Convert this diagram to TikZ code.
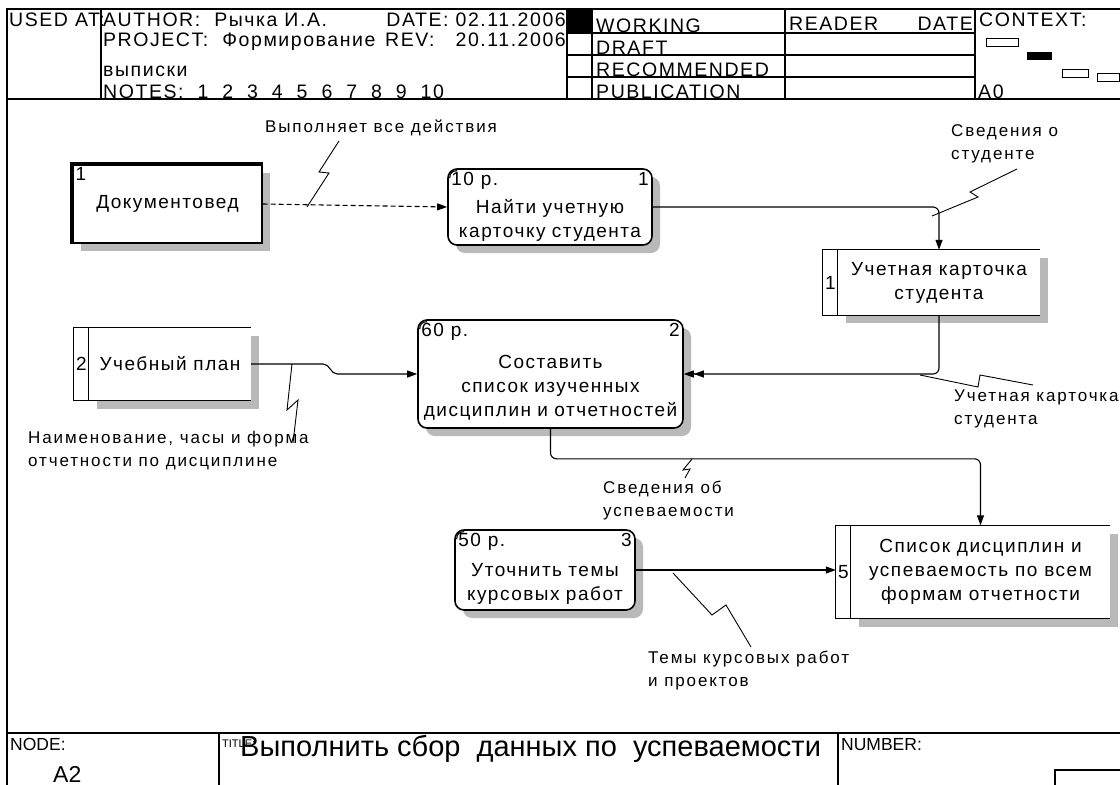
\documentclass[tikz,border=0pt]{standalone}
\usepackage{fontspec}
\setmainfont{Liberation Sans}
\newfontfamily\bpfont[LetterSpace=8]{Liberation Sans}
\newfontfamily\bpnote[LetterSpace=11]{Liberation Sans}
\usetikzlibrary{arrows.meta,calc,shadows}
\tikzset{
	shade box/.style={drop shadow={shadow xshift=8pt,shadow yshift=-8pt,fill=gray!55,opacity=1}},
	process/.style={draw, line width=1.6pt, fill=white, rounded corners=9pt, shade box, align=center, inner sep=0pt, font=\bpfont\fontsize{19}{24}\selectfont},
	store/.style={fill=white, shade box, align=center, inner sep=0pt, font=\bpfont\fontsize{19}{24}\selectfont},
	actor/.style={draw, line width=1.2pt, fill=white, shade box, align=center, inner sep=0pt, font=\bpfont\fontsize{19}{24}\selectfont},
	corner/.style={inner sep=4pt, font=\bpfont\fontsize{19}{20}\selectfont},
	flow/.style={line width=1.1pt, -{Triangle[length=10pt,width=7pt]}},
	note/.style={font=\bpnote\fontsize{17}{23}\selectfont, align=left, inner sep=0pt},
	zig/.style={line width=0.9pt},
	frame/.style={line width=1.2pt},
	head/.style={font=\bpfont\fontsize{19.5}{20}\selectfont, inner sep=0pt},
	foot/.style={font=\fontsize{17.5}{19}\selectfont, inner sep=0pt}
}
% open data store: top, bottom and number box, no right side
\newcommand\storeframe[1]{%
	\draw[line width=1.3pt] (#1.north east) -- ([xshift=-15pt]#1.north west) -- ([xshift=-15pt]#1.south west) -- (#1.south east);
	\draw[line width=1.3pt] (#1.north west) -- (#1.south west);
}
% little second stroke in the top left corner of an activity
\newcommand\cornermark[1]{%
	\draw[line width=1.1pt] ($(#1.north west)+(2.5,10)$) .. controls ($(#1.north west)+(2.5,5)$) and ($(#1.north west)+(5,2.5)$) .. ($(#1.north west)+(10,2.5)$);
}

\begin{document}
\begin{tikzpicture}[x=1pt,y=-1pt]
	\useasboundingbox (0,0) rectangle (1120,785);
	\fill[white] (0,0) rectangle (1120,785);

	% frame
	\draw[frame] (7,785) -- (7,9) -- (1120,9);
	\draw[frame] (7,99) -- (1120,99);
	\foreach \x in {101,567,592,785,975}
		\draw[frame] (\x,9) -- (\x,99);
	\foreach \y in {33,55,77}
		\draw[frame] (567,\y) -- (975,\y);
	\fill (567,9) rectangle (592,33);
	\draw (986,38) rectangle (1018,46);
	\fill (1027,52) rectangle (1052,60);
	\draw (1062,69) rectangle (1088,77);
	\draw (1097,73) rectangle (1119,81);
	\draw[frame] (7,733) -- (1120,733);
	\draw[frame] (219,733) -- (219,785);
	\draw[frame] (838,733) -- (838,785);
	\draw[frame] (1055,785) |- (1120,770);

	% header
	\node[head, anchor=base west] (usedat) at (9,26) {USED AT:};
	\node[head, anchor=base west] (author) at (103,26) {AUTHOR:\ \ Рычка И.А.};
	\node[head, anchor=base east] (date) at (566,26) {DATE: 02.11.2006};
	\node[head, anchor=base west] (project) at (103,46) {PROJECT:\ \ Формирование};
	\node[head, anchor=base east] (rev) at (566,46) {REV:\ \ \ 20.11.2006};
	\node[head, anchor=base west] (project2) at (103,76) {выписки};
	\node[head, anchor=base west] (notes) at (103,98) {NOTES:\ \ 1\ \ 2\ \ 3\ \ 4\ \ 5\ \ 6\ \ 7\ \ 8\ \ 9\ \ 10};
	\node[head, anchor=base west] (working) at (596,32) {WORKING};
	\node[head, anchor=base west] (draft) at (596,54) {DRAFT};
	\node[head, anchor=base west] (recommended) at (596,76) {RECOMMENDED};
	\node[head, anchor=base west] (publication) at (596,98) {PUBLICATION};
	\node[head, anchor=base west] (reader) at (789,30) {READER};
	\node[head, anchor=base east] (rdate) at (973,30) {DATE};
	\node[head, anchor=base west] (context) at (979,26) {CONTEXT:};
	\node[head, anchor=base west] (azero) at (978,98) {A0};

	% footer
	\node[foot, anchor=base west] (nodelbl) at (10,750) {NODE:};
	\node[font=\fontsize{23}{25}\selectfont, inner sep=0pt, anchor=base west] (nodeval) at (53,782) {A2};
	\node[font=\fontsize{11}{12}\selectfont, inner sep=0pt, anchor=base west] (titlelbl) at (222,747) {TITLE:};
	\node[font=\fontsize{29}{30}\selectfont, inner sep=0pt, anchor=base west] (title) at (240,756) {Выполнить сбор\ \ данных по\ \ успеваемости};
	\node[foot, anchor=base west] (numberlbl) at (841,750) {NUMBER:};

	% diagram
	\node[actor, minimum width=189pt, minimum height=78pt,
		label={[corner, anchor=north west, inner sep=3pt]north west:1}] (clerk) at (167.5,204) {Документовед};
	\draw[line width=4pt] (clerk.south west) -- (clerk.north west) -- (clerk.north east);

	\node[process, minimum width=204pt, minimum height=76pt, text width=200pt,
		label={[corner, anchor=north west]north west:10 р.},
		label={[corner, anchor=north east]north east:1}] (find) at (550,207) {\strut\\Найти учетную\\карточку студента};
	\cornermark{find}

	\node[store, minimum width=202pt, minimum height=65pt] (card) at (939,282.5) {Учетная карточка\\студента};
	\storeframe{card}
	\node[corner, inner sep=0pt] (cardnum) at ($(card.west)+(-7.5,0)$) {1};

	\node[store, minimum width=162pt, minimum height=73pt] (plan) at (170,364) {Учебный план};
	\storeframe{plan}
	\node[corner, inner sep=0pt] (plannum) at ($(plan.west)+(-7.5,0)$) {2};

	\node[process, minimum width=265pt, minimum height=108pt, text width=255pt,
		label={[corner, anchor=north west]north west:60 р.},
		label={[corner, anchor=north east]north east:2}] (compile) at (550.5,374) {\strut\\Составить\\список изученных\\дисциплин и отчетностей};
	\cornermark{compile}

	\node[process, minimum width=180pt, minimum height=80pt, text width=176pt,
		label={[corner, anchor=north west]north west:50 р.},
		label={[corner, anchor=north east]north east:3}] (refine) at (545,570) {\strut\\Уточнить темы\\курсовых работ};
	\cornermark{refine}

	\node[store, minimum width=259pt, minimum height=93pt] (result) at (980.5,572) {Список дисциплин и\\успеваемость по всем\\формам отчетности};
	\storeframe{result}
	\node[corner, inner sep=0pt] (resultnum) at ($(result.west)+(-7.5,0)$) {5};
	\coordinate (result in) at ($(result.west)+(-15,0)$);

	% arrows
	\draw[flow, dash pattern=on 5pt off 3pt] (clerk.east) -- (find.west);
	\draw[flow, rounded corners=6pt] (find.east) -| (card.north);
	\draw[line width=1.1pt, -{Triangle[length=10pt,width=7pt]Triangle[length=10pt,width=7pt]}, rounded corners=6pt] (card.south) |- (compile.east);
	\draw[flow] (plan.east) -- ++(72,0) to[out=0,in=180] ($(compile.west)+(-80,0)$) -- (compile.west);
	\draw[flow, rounded corners=6pt] (compile.south) -- ++(0,30) -| (result.north);
	\draw[flow] (refine.east) -- (refine.east -| result in);

	% labels
	\node[note] (lbldoes) at (381,128) {Выполняет все действия};
	\draw[zig] (339,141) -- (319,172) -- (329,173) -- (307,207);
	\node[note, anchor=west] (lblinfo) at (951,144) {Сведения о\\студенте};
	\draw[zig] (1017,169) -- (970,192) -- (978,197) -- (932,216);
	\node[note, anchor=west] (lblcard) at (954,409) {Учетная карточка\\студента};
	\draw[zig] (920,375) -- (978,387) -- (980,375) -- (1033,385);
	\node[note, anchor=west] (lblplan) at (28,451) {Наименование, часы и форма\\отчетности по дисциплине};
	\draw[zig] (292,364) -- (287,410) -- (298,400) -- (293,443);
	\node[note, anchor=west] (lblmarks) at (603,501) {Сведения об\\успеваемости};
	\draw[zig] (692,459) -- (683,470) -- (690,469) -- (685,478);
	\node[note, anchor=west] (lbltopics) at (648,671) {Темы курсовых работ\\и проектов};
	\draw[zig] (673,573) -- (712,615) -- (726,605) -- (751,647);
\end{tikzpicture}
\end{document}
